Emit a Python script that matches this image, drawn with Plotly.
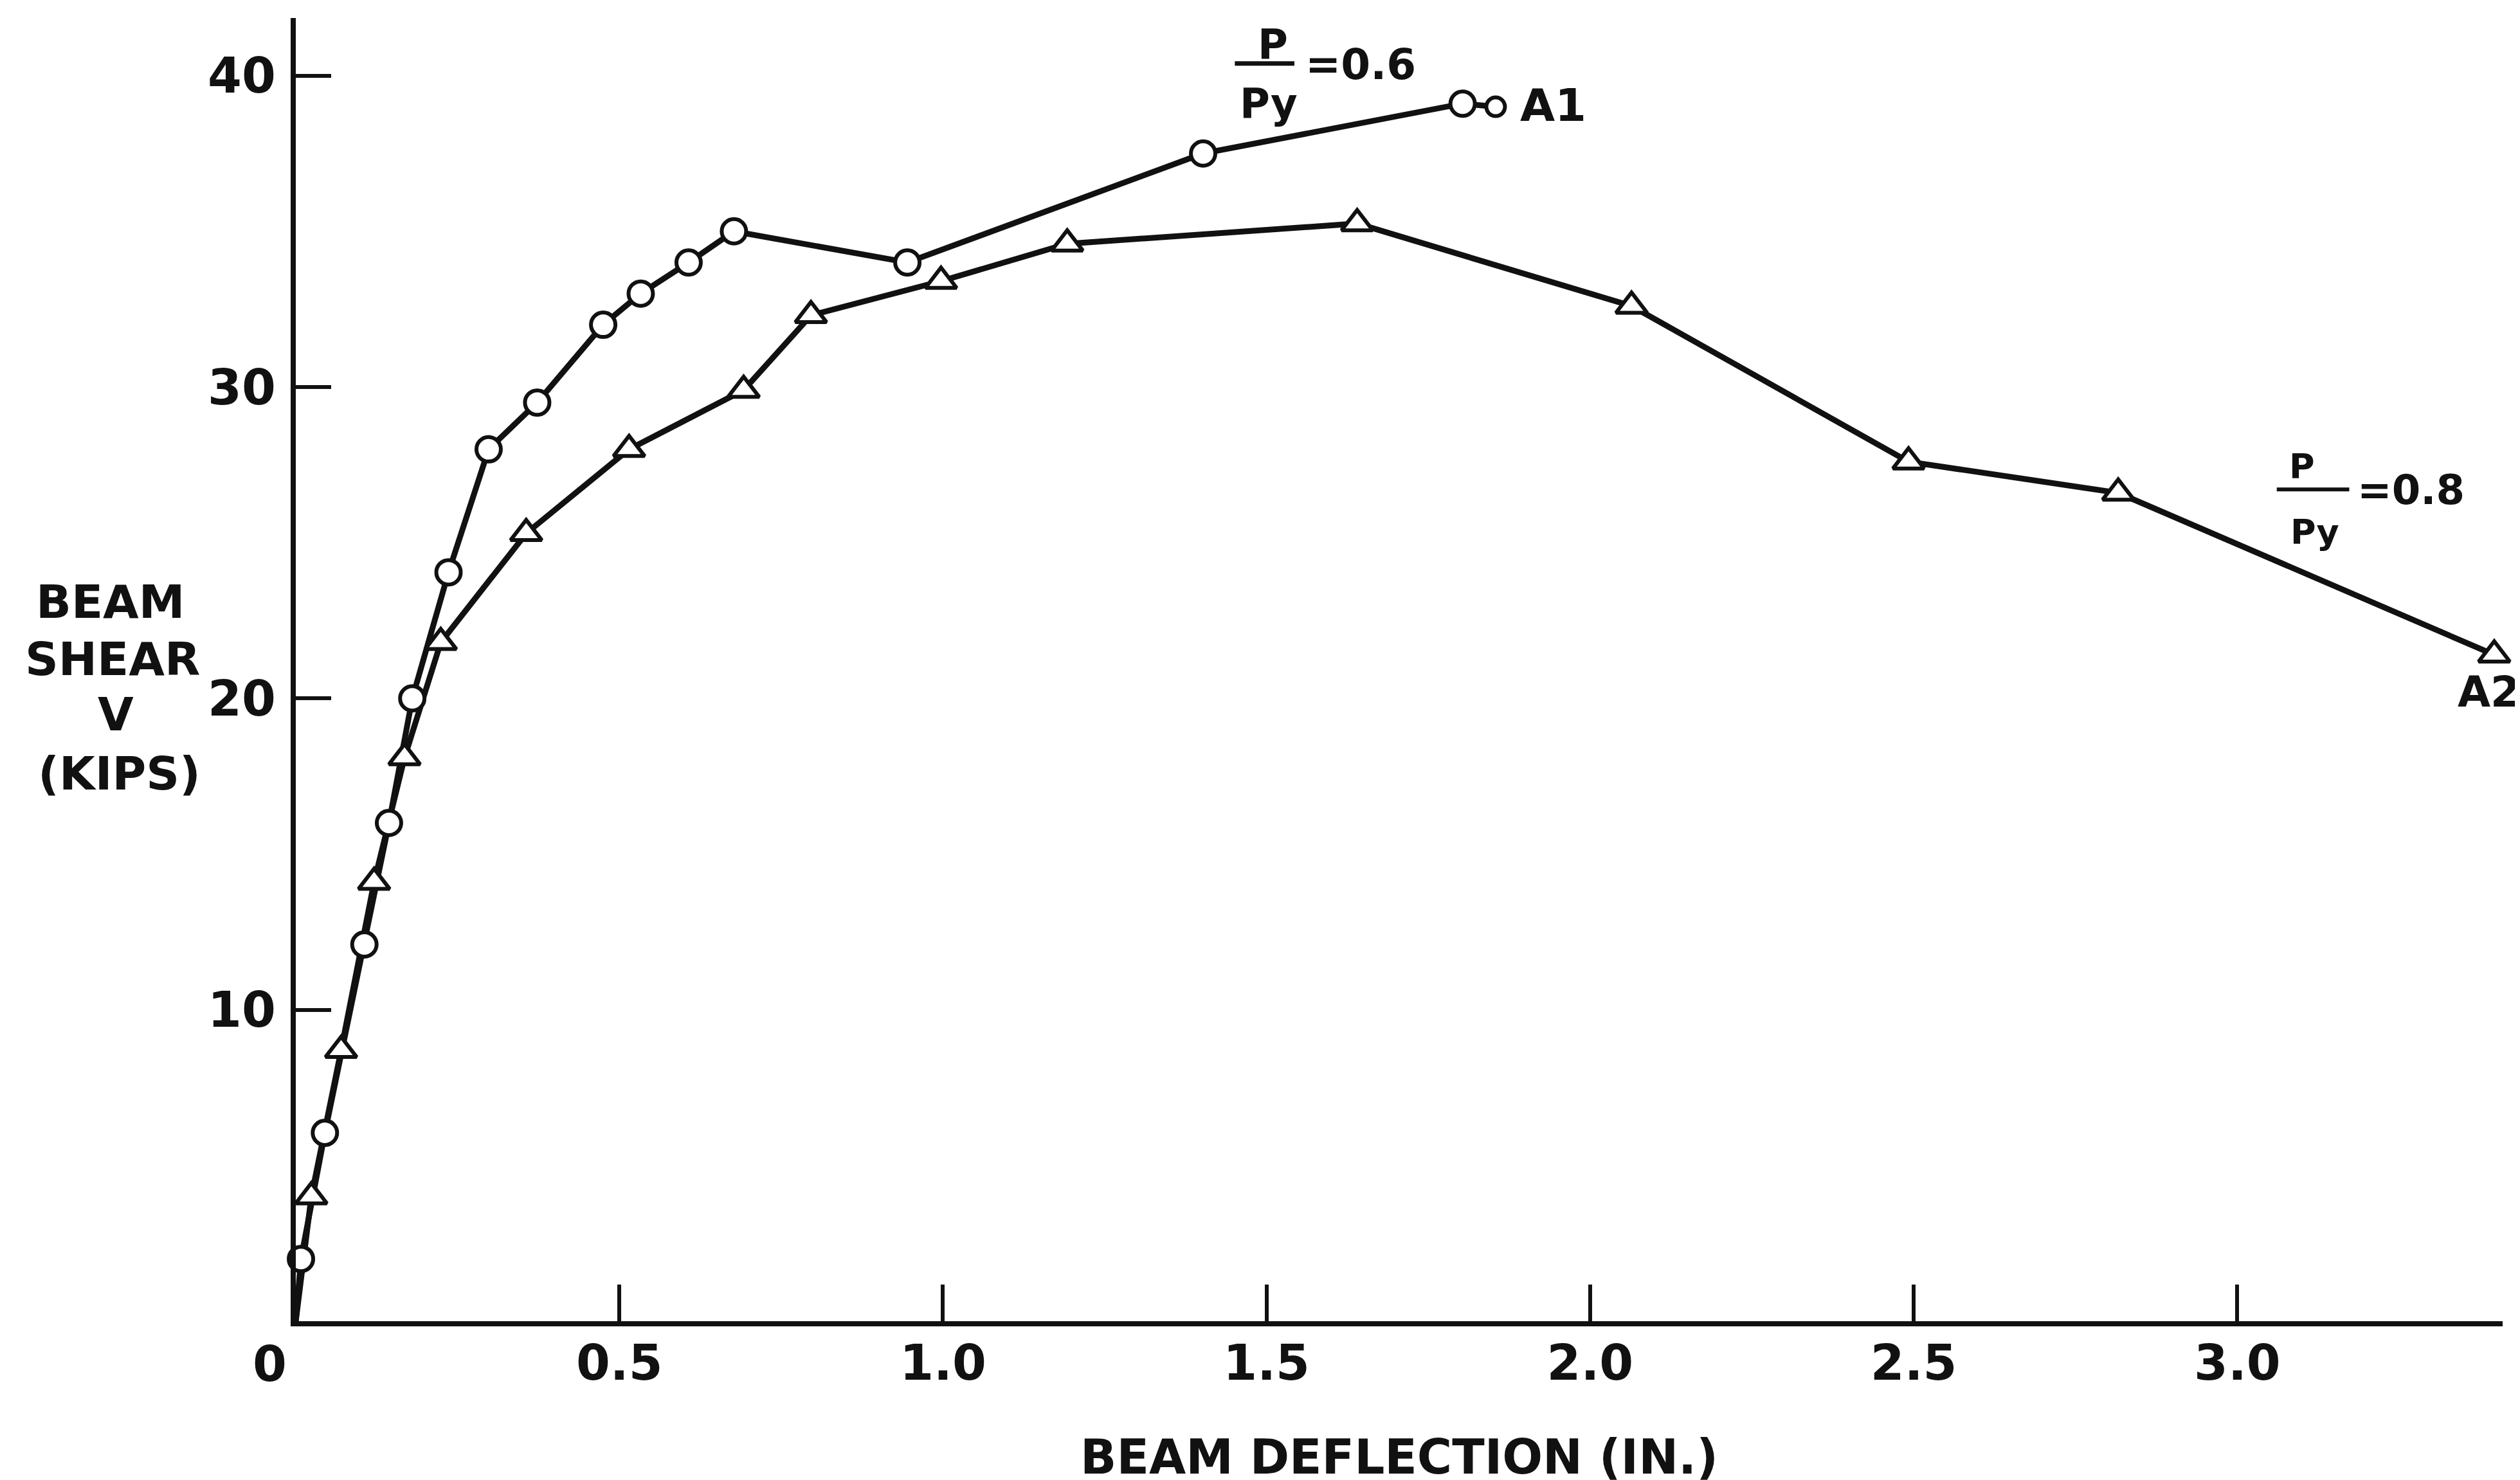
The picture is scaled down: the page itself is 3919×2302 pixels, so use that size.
import plotly.graph_objects as go

# Specimen A1 (P/Py = 0.6) - beam deflection (in.) vs beam shear V (kips)
a1_defl = [0.0, 0.008, 0.045, 0.106, 0.144, 0.180, 0.236, 0.298, 0.373, 0.475,
           0.533, 0.607, 0.677, 0.945, 1.402, 1.803, 1.854]
a1_shear = [0.0, 2.0, 6.05, 12.1, 16.0, 20.0, 24.05, 28.0, 29.5, 32.0,
            33.0, 34.0, 35.0, 34.0, 37.5, 39.1, 39.0]

# Specimen A2 (P/Py = 0.8)
a2_defl = [0.0, 0.024, 0.070, 0.121, 0.168, 0.224, 0.356, 0.515, 0.692, 0.796,
           0.997, 1.192, 1.640, 2.064, 2.492, 2.816, 3.397]
a2_shear = [0.0, 4.0, 8.7, 14.1, 18.1, 21.8, 25.3, 28.0, 29.9, 32.3,
            33.4, 34.6, 35.25, 32.6, 27.6, 26.6, 21.4]

x_tickvals = [0, 0.5, 1.0, 1.5, 2.0, 2.5, 3.0]
x_ticktext = ["", "0.5", "1.0", "1.5", "2.0", "2.5", "3.0"]
origin_label = "0"
y_tickvals = [10, 20, 30, 40]
y_ticktext = ["10", "20", "30", "40"]

FONT = "DejaVu Sans"
INK = "#111111"

fig = go.Figure()

# lines (from origin)
fig.add_trace(go.Scatter(x=a1_defl, y=a1_shear, mode="lines", cliponaxis=False,
                         line=dict(color=INK, width=9), showlegend=False, hoverinfo="skip"))
fig.add_trace(go.Scatter(x=a2_defl, y=a2_shear, mode="lines", cliponaxis=False,
                         line=dict(color=INK, width=9), showlegend=False, hoverinfo="skip"))

# markers (skip the origin)
a1_sizes = [38] * (len(a1_defl) - 2) + [29]
fig.add_trace(go.Scatter(x=a1_defl[1:], y=a1_shear[1:], mode="markers", cliponaxis=False,
                         marker=dict(symbol="circle", size=a1_sizes, color="white", opacity=1,
                                     line=dict(color=INK, width=6)),
                         name="A1", showlegend=False))
fig.add_trace(go.Scatter(x=a2_defl[1:], y=a2_shear[1:], mode="markers", cliponaxis=False,
                         marker=dict(symbol="triangle-up", size=42, color="white", opacity=1,
                                     line=dict(color=INK, width=6)),
                         name="A2", showlegend=False))

annotations = []

def txt(x, y, s, size, xanchor="center", yanchor="middle", xref="x", yref="y", bold=True):
    annotations.append(dict(x=x, y=y, xref=xref, yref=yref,
                            text=("<b>%s</b>" % s) if bold else s, showarrow=False,
                            xanchor=xanchor, yanchor=yanchor,
                            font=dict(family=FONT, size=size, color=INK)))

# Y-axis title (stacked lines), paper coordinates
txt(-0.0840, 0.552, "BEAM", 72, xref="paper", yref="paper")
txt(-0.0830, 0.508, "SHEAR", 72, xref="paper", yref="paper")
txt(-0.0816, 0.4657, "V", 72, xref="paper", yref="paper")
txt(-0.0800, 0.4203, "(KIPS)", 72, xref="paper", yref="paper")

# origin "0" label sits slightly left of the corner
txt(-0.0117, -0.033, origin_label, 76, xref="paper", yref="paper")

# A1 label: P/Py = 0.6
txt(1.510, 41.0, "P", 64)
txt(1.503, 39.1, "Py", 64)
txt(1.558, 40.35, "=0.6", 66, xanchor="left")
txt(1.890, 39.05, "A1", 70, xanchor="left")

# A2 label: P/Py = 0.8
txt(3.100, 27.45, "P", 54)
txt(3.120, 25.35, "Py", 54)
txt(3.183, 26.7, "=0.8", 64, xanchor="left")
txt(3.389, 20.2, "A2", 66)

shapes = [
    dict(type="line", xref="x", yref="y", x0=1.451, x1=1.543, y0=40.39, y1=40.39,
         line=dict(color=INK, width=7)),
    dict(type="line", xref="x", yref="y", x0=3.061, x1=3.173, y0=26.71, y1=26.71,
         line=dict(color=INK, width=6)),
]

fig.update_layout(
    width=3919, height=2302,
    margin=dict(l=452, r=35, t=20, b=255),
    paper_bgcolor="white", plot_bgcolor="white",
    annotations=annotations, shapes=shapes,
    font=dict(family=FONT, color=INK),
    xaxis=dict(range=[0, 3.41], showgrid=False, zeroline=False, automargin=False,
               showline=True, linecolor=INK, linewidth=8,
               ticks="inside", ticklen=57, tickwidth=6, tickcolor=INK,
               tickvals=x_tickvals, ticktext=["<b>%s</b>" % t if t else "" for t in x_ticktext],
               tickfont=dict(family=FONT, size=76, color=INK),
               ticklabelstandoff=-8,
               title=dict(text="<b>BEAM DEFLECTION (IN.)</b>",
                          font=dict(family=FONT, size=74, color=INK), standoff=80)),
    yaxis=dict(range=[0, 41.85], showgrid=False, zeroline=False, automargin=False,
               showline=True, linecolor=INK, linewidth=8,
               ticks="inside", ticklen=55, tickwidth=6, tickcolor=INK,
               tickvals=y_tickvals, ticktext=["<b>%s</b>" % t for t in y_ticktext],
               tickfont=dict(family=FONT, size=76, color=INK),
               ticklabelstandoff=8),
)

fig.write_html("out.html")
